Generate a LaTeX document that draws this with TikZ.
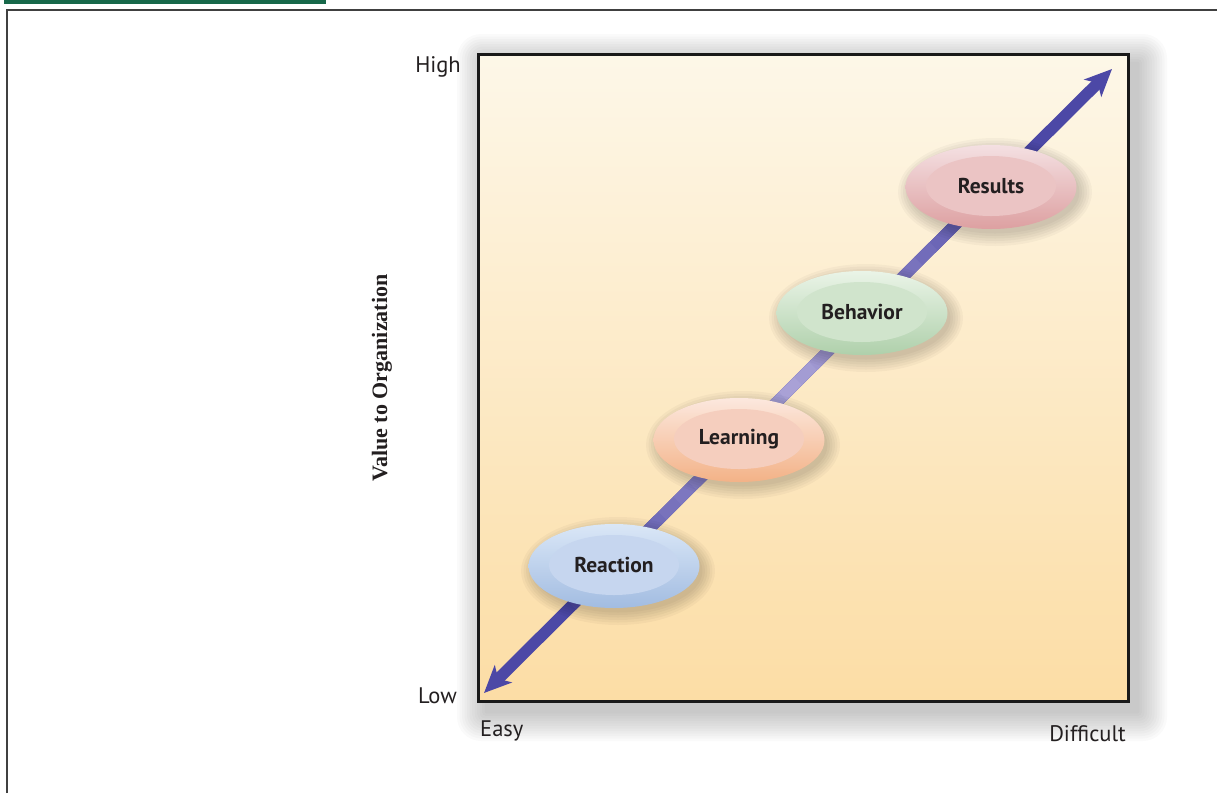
\documentclass[tikz,border=0pt]{standalone}
\usepackage{fontspec}
\setmainfont{PT Sans}
\newfontfamily\valuefont{Liberation Serif}
\usetikzlibrary{arrows.meta,shapes.geometric,calc}
\definecolor{framegreen}{HTML}{17684A}
\definecolor{boxtop}{HTML}{FDF7E8}
\definecolor{boxbot}{HTML}{FCDDA5}
\definecolor{arrowdark}{HTML}{4C48A6}
\definecolor{arrowlight}{HTML}{A9A1D6}
\definecolor{inkgray}{HTML}{231F20}
\definecolor{topblue}{HTML}{DAE7F7}
\definecolor{botblue}{HTML}{A2BCE1}
\definecolor{inblue}{HTML}{C6D6EF}
\definecolor{toppeach}{HTML}{FCE8DE}
\definecolor{botpeach}{HTML}{F3B287}
\definecolor{inpeach}{HTML}{F5CEBE}
\definecolor{topgreen}{HTML}{EAF4E7}
\definecolor{botgreen}{HTML}{AFD0AB}
\definecolor{ingreen}{HTML}{D0E4CC}
\definecolor{toppink}{HTML}{F4E0E2}
\definecolor{botpink}{HTML}{DDA0A1}
\definecolor{inpink}{HTML}{EBC4C4}
\begin{document}
\begin{tikzpicture}[x=1pt, y=-1pt,
                every node/.style = {inner sep=0pt, text=inkgray},
                axislabel/.style = {font=\fontsize{22.5}{26}\selectfont},
                outer ring/.style = {ellipse, minimum width=171pt, minimum height=84pt},
                inner disc/.style = {ellipse, minimum width=130pt, minimum height=60pt,
                        font=\fontsize{21.5}{25}\selectfont\bfseries}]
    \useasboundingbox (0,0) rectangle (1217,793);
    \fill[framegreen] (4,0) rectangle (326,3.5);
    \draw[line width=1.3pt, black!75] (7,793) -- (7,10) -- (1218,10);
    \foreach \i in {1,...,12}
        \fill[black, opacity=0.02, rounded corners=2*\i]
            ({487-2.5*\i},{64-2.5*\i}) rectangle ({1137+2.5*\i},{711+2.5*\i});
    \node[draw=black!90, line width=3pt, top color=boxtop, bottom color=boxbot,
          minimum width=650pt, minimum height=647pt, anchor=north west] (plot) at (477,53) {};
    \coordinate (lo) at (484,693);
    \coordinate (hi) at (1112,69);
    \draw[arrowdark, line width=11.5pt,
          {Stealth[length=27pt,width=24pt,inset=7pt]}-{Stealth[length=27pt,width=24pt,inset=7pt]}]
        (lo) -- (hi);
    \foreach \k in {0,...,29} {
        \pgfmathsetmacro\ta{0.14+\k*0.024}
        \pgfmathsetmacro\tb{\ta+0.025}
        \pgfmathtruncatemacro\mix{100*abs(\ta+0.012-0.49)/0.36}
        \draw[line width=11.5pt, arrowdark!\mix!arrowlight] ($(lo)!\ta!(hi)$) -- ($(lo)!\tb!(hi)$);
    }
    \foreach \nm/\cx/\cy/\txt/\tone in {react/614/566/Reaction/blue, learn/739/440/Learning/peach,
            behav/862/313/Behavior/green, result/991/187/Results/pink} {
        \foreach \s in {1,...,6}
            \fill[black, opacity=0.03] (\cx+4,\cy+5) ellipse ({82+2.5*\s} and {39+2.5*\s});
        \node[outer ring, top color=top\tone, bottom color=bot\tone] (\nm-ring) at (\cx,\cy) {};
        \node[inner disc, fill=in\tone] (\nm) at (\cx,\cy-1) {\txt};
    }
    \node[axislabel, anchor=base east] (high) at (461,72) {High};
    \node[axislabel, anchor=base east] (low) at (457,703) {Low};
    \node[axislabel, anchor=base west] (easy) at (480,736) {Easy};
    \node[axislabel, anchor=base east] (difficult) at (1126,741) {Difficult};
    \node[rotate=90, font=\valuefont\bfseries\fontsize{22}{26}\selectfont] (value) at (382,378)
        {Value to Organization};
\end{tikzpicture}
\end{document}
